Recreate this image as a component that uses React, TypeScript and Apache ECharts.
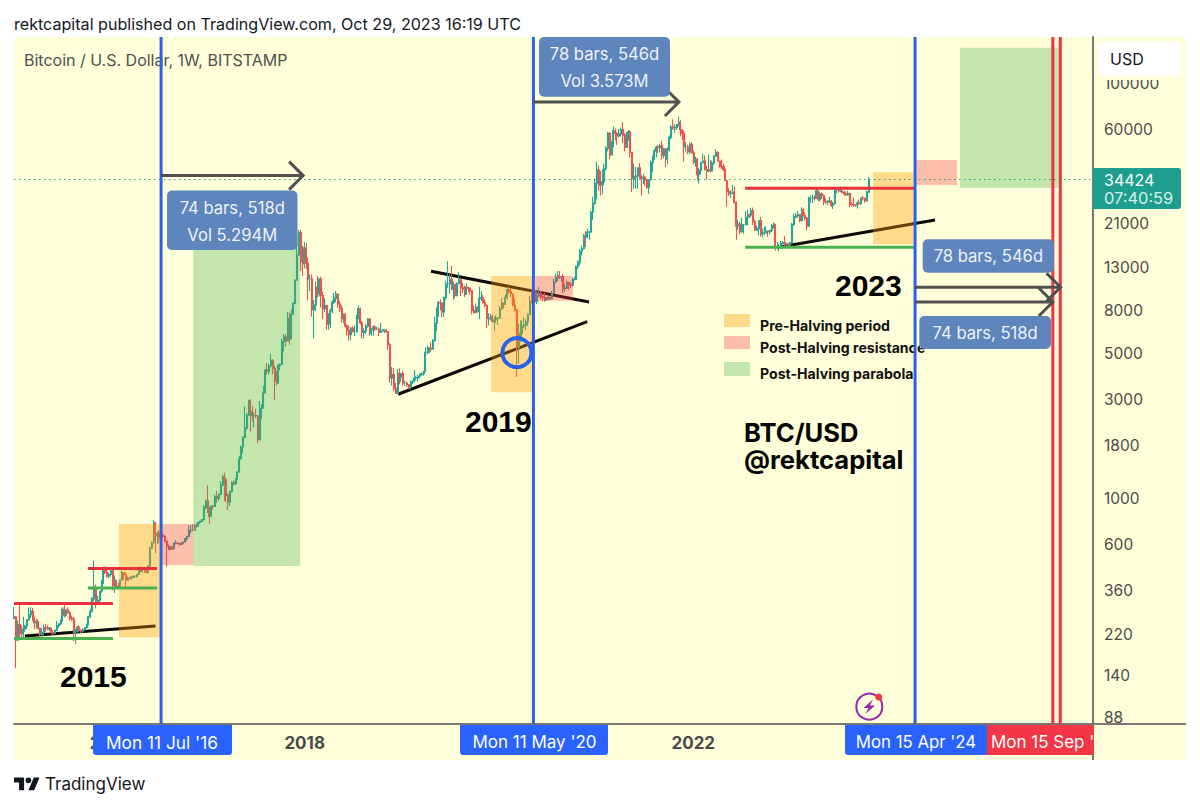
import React, { useEffect, useRef } from "react";
import * as echarts from "echarts";

// Weekly bars, one row per Monday from 5 Jan 2015: [high, low, close]. Each open is the previous close.
const firstOpen = 264;
const bars2015 = [[300,262,268],[272,152,208],[258,205,247],[309,210,226],[245,212,223],[268,215,235],[246,228,243],[262,235,260],[298,258,275],[300,266,286],[297,256,260],[270,235,252],[262,236,255],[262,234,236],[238,216,222],[238,217,226],[247,218,239],[248,228,238],[245,232,235],[240,230,237],[240,225,225],[232,220,224],[233,222,232],[257,232,244],[250,238,249],[262,245,258],[300,255,292],[316,267,274],[292,270,290],[298,280,281],[286,258,264],[272,256,262],[268,205,227],[235,199,229],[242,224,240],[245,227,231],[235,225,230],[236,225,233],[240,231,239],[250,236,247],[272,245,269],[294,265,285],[335,283,329],[502,320,372],[385,296,320],[340,308,323],[360,310,357],[404,350,390],[470,388,455],[470,432,442],[468,415,422],[438,412,430]];
const bars2016 = [[463,420,448],[465,360,380],[425,350,403],[405,365,378],[392,365,373],[406,372,405],[448,402,438],[442,405,430],[440,372,404],[420,400,412],[420,408,410],[422,406,416],[426,412,420],[428,412,420],[432,419,430],[452,428,449],[470,442,445],[465,440,459],[465,440,454],[462,436,440],[476,435,472],[585,470,575],[620,570,610],[785,610,760],[770,545,660],[690,605,680],[705,608,650],[675,645,665],[680,650,655],[665,620,622],[630,468,588],[600,565,570],[590,565,582],[590,565,572],[615,568,607],[632,600,608],[615,600,607],[610,590,600],[612,597,612],[620,605,617],[645,615,640],[660,625,655],[740,652,700],[745,680,703],[750,695,702],[755,700,740],[755,725,735],[770,730,765],[775,755,775],[795,770,790],[930,785,905],[985,890,970]];
const bars2017 = [[1155,850,900],[910,755,820],[930,815,920],[925,885,915],[1040,915,1020],[1090,950,1000],[1060,975,1045],[1210,1045,1160],[1300,1145,1270],[1330,975,1230],[1260,960,1035],[1060,880,960],[1090,920,1080],[1210,1075,1190],[1220,1155,1175],[1250,1165,1245],[1350,1230,1340],[1600,1330,1550],[1800,1550,1770],[2000,1650,1970],[2780,1950,2180],[2580,2150,2520],[2990,2520,2950],[3000,2100,2620],[2790,2350,2500],[2600,2200,2510],[2700,2440,2500],[2500,1850,1920],[2950,1900,2720],[2840,2420,2730],[3490,2700,3220],[4200,3200,4150],[4480,3950,4090],[4460,3950,4350],[4990,4280,4610],[4700,3950,4230],[4370,2970,3680],[4100,3500,3600],[4450,3580,4370],[4460,4150,4430],[5880,4430,5680],[6200,5100,6010],[6200,5390,5740],[7900,5700,7380],[7880,5500,5880],[8100,5850,7700],[8800,7700,8700],[11380,8700,11250],[16660,11200,14900],[19660,14900,19100],[19700,12500,13800],[16500,11800,13500]];
const bars2018 = [[17200,12800,16100],[17000,12700,13600],[14500,9000,11400],[12000,9950,11400],[12000,7500,8100],[9000,5900,8550],[11100,8000,10400],[11800,9300,9650],[11500,9400,11400],[11700,8300,9500],[9900,7300,8200],[9200,7900,8500],[8500,6500,6900],[7800,6500,7000],[8200,6600,8000],[9000,7800,8800],[9750,8650,9200],[9980,8800,9650],[9650,8300,8650],[8900,7900,8200],[8500,7050,7350],[7800,7000,7700],[7780,6650,6770],[6900,6100,6450],[6850,5750,6150],[6700,5780,6600],[6750,6300,6350],[6800,6050,6350],[7700,6300,7400],[8500,7300,8200],[8300,6900,7000],[7150,5900,6300],[6600,5900,6400],[6900,6200,6750],[7400,6650,7300],[7400,6100,6250],[6600,6100,6500],[6800,6100,6700],[6800,6400,6550],[6700,6450,6550],[6650,6050,6300],[7000,6280,6400],[6550,6350,6400],[6500,6250,6480],[6550,6300,6350],[6400,5200,5500],[5600,3600,3800],[4300,3500,3950],[4250,3300,3400],[3600,3200,3200],[4200,3200,4000],[4240,3550,3850],[4000,3650,4000]];
const bars2019 = [[4100,3500,3600],[3700,3500,3600],[3650,3450,3530],[3530,3350,3450],[3700,3350,3650],[3700,3560,3650],[4150,3650,3800],[3880,3700,3820],[3930,3650,3880],[4000,3780,3970],[4050,3900,3990],[4120,3900,4100],[5350,4090,5050],[5450,4950,5050],[5350,5000,5300],[5630,5080,5250],[5850,5200,5750],[7500,5700,6980],[8300,6400,8000],[8950,7500,8750],[9100,8050,8730],[8800,7450,7900],[9350,7500,9300],[11200,9000,10800],[13880,10350,10800],[12000,9700,11350],[13200,10100,10200],[11100,9050,10750],[10700,9200,9500],[11000,9400,10820],[12350,10800,11300],[11500,9450,10350],[10950,9750,10150],[10650,9350,9600],[10900,9600,10400],[10450,9850,10300],[10350,9600,10000],[10050,7700,8050],[8500,7750,7870],[8700,7800,8300],[8420,7850,7950],[10500,7300,9200],[9950,8950,9250],[9550,8700,8800],[9100,8300,8500],[8600,6600,7350],[7800,6800,7400],[7750,7200,7500],[7650,7100,7100],[7500,6430,7250],[7650,7000,7380],[7500,6850,7400]];
const bars2020 = [[8450,7400,8200],[9200,8100,8700],[8800,8250,8600],[9600,8550,9300],[10150,9100,10150],[10500,9700,9900],[10300,9300,9660],[9700,8400,8550],[9180,7950,8050],[8200,3850,5350],[6950,4450,5850],[7200,5650,6250],[7200,5900,6780],[7450,6600,6850],[7300,6500,7100],[7800,6750,7700],[9450,7650,8900],[10000,8750,8750],[9950,8200,9700],[10100,8800,8900],[10000,8650,9450],[10400,9300,9700],[10000,9100,9350],[9600,8900,9300],[9800,8850,9000],[9300,8950,9100],[9450,9050,9300],[9350,9000,9170],[10000,9100,9700],[11400,9700,11050],[12100,10900,11580],[12450,11150,11850],[12470,11400,11650],[11800,11100,11700],[12050,9800,10250],[10800,9850,10320],[11200,10200,10950],[11000,10100,10700],[11000,10300,10650],[11500,10500,11280],[11700,11200,11350],[13200,11400,13100],[14000,12750,13750],[15900,13200,15500],[16500,14800,15950],[18800,15800,18400],[19400,16300,18200],[19900,18000,19150],[19400,17600,19200],[24300,19000,23900],[28400,21900,26400],[34800,26000,33000]];
const bars2021 = [[41900,27700,38200],[40100,30400,36000],[37800,28800,32300],[38500,29200,33500],[40900,32300,38900],[49700,37900,48600],[58350,47000,57400],[58300,43000,45100],[52600,45000,50900],[61800,49300,59000],[60600,53200,57300],[58400,50400,55800],[60200,54800,57000],[61200,55400,59800],[64900,51500,56200],[57500,47000,49000],[58400,48800,57800],[59500,52900,58200],[59600,43900,46400],[46600,30000,34700],[40900,31000,35500],[39500,31100,35800],[39400,31000,39100],[41300,34800,35500],[36000,28800,34700],[36600,32700,35300],[35100,32100,34250],[34700,31000,31500],[34500,29300,34300],[42500,34000,41500],[44800,37300,44500],[48200,42800,47100],[49800,43900,49300],[50500,46300,48900],[51000,46500,49900],[52900,42800,44900],[48800,43400,48300],[48000,39500,43200],[49200,40700,47700],[56000,46900,54900],[62900,53900,61500],[67000,59500,60900],[63500,57800,61300],[63500,59500,63300],[69000,62300,64900],[66300,55600,59700],[59500,53300,57300],[59200,42000,49300],[51900,46900,49300],[50500,45500,46800],[51800,45500,50800],[52000,45700,46200]];
const bars2022 = [[47500,40600,41800],[44400,39650,43100],[43500,34000,36300],[38900,32900,38100],[41800,36300,41400],[45800,41200,42200],[44800,38000,38400],[40000,34300,37700],[45400,37500,38400],[42600,37200,37800],[42300,37600,41300],[45100,40500,44500],[48200,44400,46300],[47200,41900,42200],[42400,39200,40400],[42900,38600,39700],[40800,37600,38500],[40000,33700,34000],[34200,25400,30100],[31400,28600,29400],[30600,28000,29500],[32300,29300,29800],[31800,26500,26600],[26900,17600,20500],[22000,19700,21000],[21500,18700,19300],[22500,19000,20800],[21000,18900,20800],[24200,20700,22600],[24600,20700,23300],[23500,22400,23170],[25100,22650,24300],[25200,20750,21500],[22000,19500,19600],[20600,19500,19900],[21800,18500,21800],[22700,18200,18800],[19900,18100,18900],[20300,18500,19000],[20450,19000,19400],[19500,18200,19250],[19700,18700,19570],[21000,19200,20600],[21400,20000,20900],[21000,15600,16300],[17200,15800,16300],[16800,15500,16400],[17400,16000,16900],[17400,16700,17100],[18400,16300,16750],[17000,16300,16830],[16950,16300,16600]];
const bars2023 = [[17100,16500,17100],[21200,17100,20900],[23400,20500,22700],[23800,22300,23000],[24250,22500,23300],[23400,21400,21800],[25250,21500,24600],[25000,22800,23200],[23900,21900,22400],[22600,19600,20500],[28400,20600,28000],[28800,26600,28000],[29200,26500,28100],[28800,27200,27900],[30900,28000,30300],[30500,27100,27600],[30000,26900,29300],[29800,27700,28700],[29100,25800,26900],[28000,26300,26800],[27300,25900,26850],[28400,26500,27100],[27400,25400,25850],[26800,24800,26300],[31400,26300,30500],[31000,29500,30500],[31500,29800,30300],[31800,29950,30300],[30300,29500,29800],[30300,28900,29300],[30050,28600,29000],[30250,28700,29400],[29700,25200,26100],[26800,25400,26000],[28150,25400,25900],[26100,25400,25850],[26900,24900,26500],[27500,26000,26250],[27500,26000,27950],[28600,27200,27900],[28000,26550,27100],[30400,26900,29900],[35200,29700,34424]];

const firstWeek = "2015-01-05";
const axisEnd = "2026-02-13";
const lastPrice = 34424;
const yTickLabels = [100000, 60000, 21000, 13000, 8000, 5000, 3000, 1800, 1000, 600, 360, 220, 140, 88];
const xYearLabels = ["2016-01-01", "2018-01-02", "2022-01-02"];

const blueDates = ["2016-07-11", "2020-05-11", "2024-04-15"];
const redDates = ["2025-09-15", "2025-10-13"];

// [start date, end date, top price, bottom price]
const orangeZones = [["2016-02-04", "2016-07-07", 753, 214], ["2019-12-04", "2020-05-06", 11790, 3245], ["2023-11-09", "2024-04-09", 37240, 16760]];
const pinkZones = [["2016-07-15", "2016-11-09", 753, 478], ["2020-05-17", "2020-10-07", 11790, 8963], ["2024-04-20", "2024-09-20", 42690, 32340]];
const greenZones = [["2016-11-09", "2017-12-16", 18580, 473], ["2024-10-01", "2025-10-13", 148400, 31400]];
// [start date, start price, end date, end price]
const redLevels = [["2015-01-05", 312, "2016-01-12", 312], ["2015-10-10", 460, "2016-06-26", 460], ["2022-07-16", 31190, "2024-04-15", 31190]];
const greenLevels = [["2015-01-05", 211.5, "2016-01-12", 211.5], ["2015-10-10", 370, "2016-06-26", 370], ["2022-07-16", 16210, "2024-04-15", 16210]];
const blackTrends = [["2015-02-15", 217.5, "2016-06-20", 243], ["2019-04-22", 12417, "2020-12-06", 8838], ["2018-12-19", 3175, "2020-11-29", 7102], ["2022-11-24", 16270, "2024-06-29", 21940]];
// [start date, end date, price]
const arrows = [["2016-07-11", "2017-12-27", 35900], ["2020-05-11", "2021-11-09", 81230], ["2024-04-15", "2025-10-14", 10400], ["2024-04-15", "2025-09-15", 8838]];
const circleMark = ["2020-03-10", 5036];

const DAY = (s: string) => Date.parse(s + "T00:00:00Z");
const allRows = [...bars2015, ...bars2016, ...bars2017, ...bars2018, ...bars2019, ...bars2020, ...bars2021, ...bars2022, ...bars2023];
const candles = allRows.map((r, i) => {
  const open = i === 0 ? firstOpen : allRows[i - 1][2];
  return [DAY(firstWeek) + i * 7 * 86400000, open, r[2], r[1], r[0]];
});

const UI = "Inter, 'Noto Sans', sans-serif";
const BLUE = "#2B61EA";
const RED = "#F23645";
const CALLOUT = "#5F85BD";
const GREY = "#4A4A4A";
const PANEL = "#FFFFD9";

echarts.graphic.registerShape(
  "tvmark",
  echarts.graphic.extendPath("M14 22H7V11H0V4h14v18zM28 22h-8l7.5-18h8L28 22zM24 8a4 4 0 1 1-8 0a4 4 0 1 1 8 0z", {}) as any
);

const text = (x: number, y: number, t: string, font: string, fill: string, align = "left", z = 90) => ({
  type: "text", x, y, z, silent: true,
  style: { text: t, font, fill, textAlign: align, textVerticalAlign: "middle" },
});
const rect = (x: number, y: number, w: number, h: number, fill: string, z = 90, r: any = 0) => ({
  type: "rect", z, silent: true, shape: { x, y, width: w, height: h, r }, style: { fill },
});
const callout = (x: number, y: number, w: number, h: number, lines: string[]) => [
  rect(x, y, w, h, CALLOUT, 60, 5),
  ...lines.map((l, i) =>
    text(x + w / 2, lines.length === 1 ? y + h / 2 : y + 17 + i * 27, l, `16.6px ${UI}`, "#EEF2F8", "center", 61)
  ),
];

function zoneSeries(name: string, zones: any[], fill: string, z: number) {
  return {
    type: "custom", name, silent: true, z,
    data: zones.map((q) => [DAY(q[0]), q[2], DAY(q[1]), q[3]]),
    renderItem: (_: any, api: any) => {
      const a = api.coord([api.value(0), api.value(1)]);
      const b = api.coord([api.value(2), api.value(3)]);
      return { type: "rect", shape: { x: a[0], y: a[1], width: b[0] - a[0], height: b[1] - a[1] }, style: { fill } };
    },
  };
}
function segmentSeries(name: string, segs: any[], stroke: string, lineWidth: number, z: number) {
  return {
    type: "custom", name, silent: true, z,
    data: segs.map((q) => [DAY(q[0]), q[1], DAY(q[2]), q[3]]),
    renderItem: (_: any, api: any) => {
      const a = api.coord([api.value(0), api.value(1)]);
      const b = api.coord([api.value(2), api.value(3)]);
      return { type: "line", shape: { x1: a[0], y1: a[1], x2: b[0], y2: b[1] }, style: { stroke, lineWidth } };
    },
  };
}
function verticalSeries(name: string, dates: string[], stroke: string, z: number) {
  return {
    type: "custom", name, silent: true, z,
    data: dates.map((d) => [DAY(d), lastPrice]),
    renderItem: (p: any, api: any) => {
      const x = api.coord([api.value(0), api.value(1)])[0];
      const c = p.coordSys;
      return { type: "line", shape: { x1: x, y1: c.y, x2: x, y2: c.y + c.height }, style: { stroke, lineWidth: 3 } };
    },
  };
}

export default function App() {
  const ref = useRef<HTMLDivElement>(null);
  useEffect(() => {
    const chart = echarts.init(ref.current!, undefined, { renderer: "svg" });
    chart.setOption({
      animation: false,
      useUTC: true,
      backgroundColor: "#FFFFFF",
      grid: { left: 14, top: 37, width: 1079, height: 687, containLabel: false },
      xAxis: {
        type: "time",
        min: DAY(firstWeek),
        max: DAY(axisEnd),
        splitLine: { show: false },
        axisTick: { show: false },
        axisLine: { show: true, onZero: false, lineStyle: { color: "#787878", width: 2 } },
        axisLabel: { show: false },
      },
      yAxis: {
        type: "log",
        logBase: 10,
        min: 81.9,
        max: 167000,
        position: "right",
        splitLine: { show: false },
        axisTick: { show: false },
        axisLine: { show: true, onZero: false, lineStyle: { color: "#787878", width: 2 } },
        axisLabel: {
          customValues: yTickLabels,
          color: GREY, fontFamily: UI, fontSize: 15.5, margin: 11, align: "left",
          formatter: (v: number) => String(Math.round(v)),
        },
      },
      series: [
        segmentSeries("Trend lines", blackTrends, "#0A0A0A", 3, 2),
        {
          type: "candlestick",
          name: "BTC/USD",
          z: 3,
          silent: true,
          barWidth: 1.5,
          encode: { x: 0, y: [1, 2, 3, 4] },
          data: candles,
          itemStyle: { color: "#26A69A", color0: "#EF5350", borderColor: "#26A69A", borderColor0: "#EF5350", borderWidth: 1.1 },
          markLine: {
            silent: true,
            symbol: "none",
            label: { show: false },
            lineStyle: { color: "#1E9E8E", type: [1.5, 3.5], width: 1.2 },
            data: [{ yAxis: lastPrice }],
          },
        },
        zoneSeries("Pre-Halving period", orangeZones, "rgba(255,152,0,0.36)", 4),
        zoneSeries("Post-Halving resistance", pinkZones, "rgba(242,54,69,0.32)", 4),
        zoneSeries("Post-Halving parabola", greenZones, "rgba(76,175,80,0.33)", 4),
        segmentSeries("Resistance", redLevels, "#E8303F", 3, 5),
        segmentSeries("Support", greenLevels, "#4CAF50", 3, 5),
        verticalSeries("Halving dates", blueDates, BLUE, 6),
        verticalSeries("Cycle peak dates", redDates, "#EE3344", 6),
        {
          type: "custom", name: "Durations", silent: true, z: 7,
          data: arrows.map((q) => [DAY(q[0] as string), q[2], DAY(q[1] as string)]),
          renderItem: (_: any, api: any) => {
            const a = api.coord([api.value(0), api.value(1)]);
            const b = api.coord([api.value(2), api.value(1)]);
            const style = { stroke: "#505050", lineWidth: 3, fill: "none" };
            return {
              type: "group",
              children: [
                { type: "line", shape: { x1: a[0], y1: a[1], x2: b[0], y2: b[1] }, style },
                { type: "polyline", shape: { points: [[b[0] - 14, b[1] - 14], [b[0], b[1]], [b[0] - 14, b[1] + 14]] }, style },
              ],
            };
          },
        },
        {
          type: "custom", name: "Retest", silent: true, z: 7,
          data: [[DAY(circleMark[0] as string), circleMark[1]]],
          renderItem: (_: any, api: any) => {
            const a = api.coord([api.value(0), api.value(1)]);
            return { type: "circle", shape: { cx: a[0], cy: a[1], r: 14.5 }, style: { stroke: BLUE, lineWidth: 4, fill: "none" } };
          },
        },
        {
          type: "custom", name: "Year labels", silent: true, z: 1,
          data: xYearLabels.map((d) => [DAY(d), lastPrice]),
          renderItem: (p: any, api: any) => {
            const x = api.coord([api.value(0), api.value(1)])[0];
            return {
              type: "text", x, y: p.coordSys.y + p.coordSys.height + 19,
              style: { text: String(new Date(api.value(0)).getUTCFullYear()), font: `bold 17px ${UI}`, fill: GREY, textAlign: "center", textVerticalAlign: "middle" },
            };
          },
        },
      ],
      graphic: [
        rect(14, 37, 1172, 723, PANEL, -10),
        { type: "line", z: 1, silent: true, shape: { x1: 1093, y1: 724, x2: 1186, y2: 724 }, style: { stroke: "#787878", lineWidth: 2 } },
        { type: "line", z: 1, silent: true, shape: { x1: 1093, y1: 724, x2: 1093, y2: 760 }, style: { stroke: "#787878", lineWidth: 2 } },
        text(14, 24, "rektcapital published on TradingView.com, Oct 29, 2023 16:19 UTC", `16.1px ${UI}`, "#131722"),
        text(24, 60, "Bitcoin / U.S. Dollar, 1W, BITSTAMP", `16px ${UI}`, "#505050", "left", 1),

        ...callout(167, 190.5, 130.5, 59.5, ["74 bars, 518d", "Vol 5.294M"]),
        ...callout(539, 37, 131, 59.7, ["78 bars, 546d", "Vol 3.573M"]),
        ...callout(922.7, 239.3, 131.3, 33.4, ["78 bars, 546d"]),
        ...callout(919.3, 316, 131.7, 33, ["74 bars, 518d"]),

        text(60, 676, "2015", "bold 30px 'Liberation Sans'", "#000000"),
        text(465, 421, "2019", "bold 30px 'Liberation Sans'", "#000000"),
        text(835, 285, "2023", "bold 30px 'Liberation Sans'", "#000000"),
        text(744, 432, "BTC/USD", `bold 25.6px ${UI}`, "#050505"),
        text(744, 459, "@rektcapital", `bold 25.6px ${UI}`, "#050505"),

        rect(724, 314, 26, 13, "rgba(255,152,0,0.36)", 8),
        rect(724, 336, 26, 13, "rgba(242,54,69,0.32)", 8),
        rect(724, 362, 26, 14, "rgba(76,175,80,0.33)", 8),
        text(760, 325.5, "Pre-Halving period", `bold 14.1px ${UI}`, "#111111", "left", 5),
        text(760, 347.5, "Post-Halving resistance", `bold 14.1px ${UI}`, "#111111", "left", 5),
        text(760, 373, "Post-Halving parabola", `bold 14.1px ${UI}`, "#111111", "left", 5),

        rect(1094, 76, 90, 4, PANEL, 69),
        rect(1098, 42, 83, 34, "#FFFFFF", 70, 5),
        text(1110, 59, "USD", `16px ${UI}`, "#131722", "left", 71),
        rect(1093, 168, 88, 41, "#1E9E8E", 70, [0, 3, 3, 0]),
        text(1104, 179.5, "34424", `16px ${UI}`, "#FFFFFF", "left", 71),
        text(1104, 198, "07:40:59", `16.4px ${UI}`, "#D7F0EC", "left", 71),

        rect(987 - 7, 725, 120, 30, RED, 70),
        text(1053, 742, "Mon 15 Sep '25", `17px ${UI}`, "#FFFFFF", "center", 71),
        rect(1094, 725, 92, 35, PANEL, 72),
        rect(93, 725, 139, 30, "#2962FF", 73, [0, 0, 3, 3]),
        text(162, 742, "Mon 11 Jul '16", `17.3px ${UI}`, "#FFFFFF", "center", 74),
        rect(460, 725, 148, 30, "#2962FF", 73, [0, 0, 3, 3]),
        text(534.5, 742, "Mon 11 May '20", `17px ${UI}`, "#FFFFFF", "center", 74),
        rect(845, 725, 142, 30, "#2962FF", 73, [0, 0, 3, 3]),
        text(916, 742, "Mon 15 Apr '24", `16.8px ${UI}`, "#FFFFFF", "center", 74),

        { type: "circle", z: 60, silent: true, shape: { cx: 869.3, cy: 706.7, r: 13 }, style: { fill: "none", stroke: "#9C27B0", lineWidth: 2 } },
        { type: "circle", z: 61, silent: true, shape: { cx: 878.7, cy: 697, r: 3.5 }, style: { fill: "#F23645" } },
        { type: "polygon", z: 61, silent: true, shape: { points: [[873, 699.5], [863.5, 708], [868.5, 708], [865.5, 714], [875, 705.5], [870, 705.5]] }, style: { fill: "#9C27B0" } },

        { type: "tvmark", z: 60, silent: true, x: 14, y: 774.5, scaleX: 0.72, scaleY: 0.72, style: { fill: "#131722" } },
        text(45, 784, "TradingView", `17px ${UI}`, "#131722"),
      ],
    });
    return () => chart.dispose();
  }, []);
  return <div ref={ref} style={{ position: "fixed", left: 0, top: 0, width: 1200, height: 808 }} />;
}
